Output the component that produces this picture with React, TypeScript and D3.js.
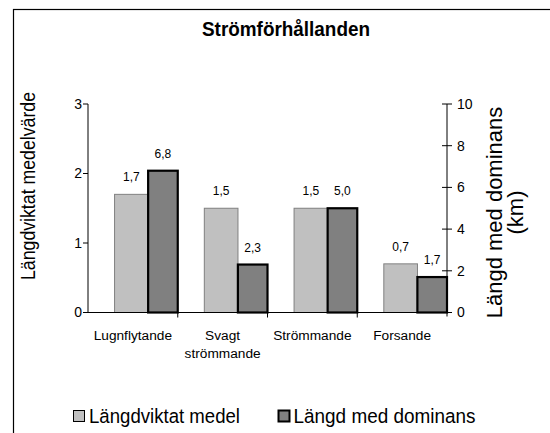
import React from "react";
import * as d3 from "d3";

const title = "Strömförhållanden";
const categories = ["Lugnflytande", "Svagt\nströmmande", "Strömmande", "Forsande"];
const medelValues = [1.7, 1.5, 1.5, 0.7];
const dominansValues = [6.8, 2.3, 5.0, 1.7];
const leftTicks = [0, 1, 2, 3];
const rightTicks = [0, 2, 4, 6, 8, 10];
const leftTitle = "Längdviktat medelvärde";
const rightTitle = ["Längd med dominans", "(km)"];
const seriesNames = ["Längdviktat medel", "Längd med dominans"];

const FONT = "'Liberation Sans', Arial, Helvetica, sans-serif";
const LIGHT = "#c0c0c0";
const DARK = "#808080";

const fmt = (v: number) => d3.format(".1f")(v).replace(".", ",");

export default function App() {
  const plotLeft = 88;
  const plotRight = 447;
  const plotTop = 104;
  const plotBottom = 312.5;

  const x = d3.scaleBand<string>().domain(categories).range([plotLeft, plotRight]).padding(0);
  const yL = d3.scaleLinear().domain([0, 3]).range([plotBottom, plotTop]);
  const yR = d3.scaleLinear().domain([0, 10]).range([plotBottom, plotTop]);
  const bw = x.bandwidth();

  const lightX = (c: string) => (x(c) as number) + bw * 0.296;
  const lightW = bw * 0.375;
  const darkX = (c: string) => (x(c) as number) + bw * 0.67;
  const darkW = bw * 0.33;

  return (
    <svg
      width={550}
      height={433}
      style={{ position: "absolute", left: 0, top: 0, background: "#fff", overflow: "hidden" }}
      fontFamily={FONT}
    >
      <rect x={0} y={0} width={550} height={433} fill="#fff" />
      {/* outer frame */}
      <rect x={13.5} y={9.5} width={600} height={500} fill="none" stroke="#000" strokeWidth={1.2} />

      {/* title */}
      <text
        x={286}
        y={36}
        textAnchor="middle"
        fontWeight="bold"
        fontSize={20}
        textLength={168}
        lengthAdjust="spacingAndGlyphs"
        fill="#000"
      >
        {title}
      </text>

      {/* bars: light series (left axis) */}
      {categories.map((c, i) => (
        <rect
          key={"l" + i}
          x={lightX(c)}
          y={yL(medelValues[i])}
          width={lightW}
          height={plotBottom - yL(medelValues[i])}
          fill={LIGHT}
          stroke="#808080"
          strokeWidth={1}
        />
      ))}
      {/* bars: dark series (right axis) */}
      {categories.map((c, i) => (
        <rect
          key={"d" + i}
          x={darkX(c)}
          y={yR(dominansValues[i])}
          width={darkW}
          height={plotBottom - yR(dominansValues[i])}
          fill={DARK}
          stroke="#000"
          strokeWidth={2.2}
        />
      ))}

      {/* data labels */}
      {categories.map((c, i) => (
        <text
          key={"ll" + i}
          x={lightX(c) + lightW / 2}
          y={yL(medelValues[i]) - 13}
          textAnchor="middle"
          fontSize={12}
          fill="#000"
        >
          {fmt(medelValues[i])}
        </text>
      ))}
      {categories.map((c, i) => (
        <text
          key={"dl" + i}
          x={darkX(c) + darkW / 2}
          y={yR(dominansValues[i]) - 13}
          textAnchor="middle"
          fontSize={12}
          fill="#000"
        >
          {fmt(dominansValues[i])}
        </text>
      ))}

      {/* left axis */}
      <line x1={plotLeft} x2={plotLeft} y1={plotTop} y2={plotBottom} stroke="#000" strokeWidth={1} />
      {leftTicks.map((t) => (
        <g key={"lt" + t}>
          <line x1={plotLeft - 5} x2={plotLeft} y1={yL(t)} y2={yL(t)} stroke="#000" strokeWidth={1} />
          <text x={82} y={yL(t)} dy="0.35em" textAnchor="end" fontSize={14} fill="#000">
            {t}
          </text>
        </g>
      ))}

      {/* right axis */}
      <line x1={plotRight} x2={plotRight} y1={plotTop} y2={plotBottom + 4} stroke="#000" strokeWidth={1} />
      {rightTicks.map((t) => (
        <g key={"rt" + t}>
          <line x1={plotRight - 5} x2={plotRight + 5} y1={yR(t)} y2={yR(t)} stroke="#000" strokeWidth={1} />
          <text x={457} y={yR(t)} dy="0.35em" textAnchor="start" fontSize={14} fill="#000">
            {t}
          </text>
        </g>
      ))}

      {/* bottom axis */}
      <line x1={plotLeft} x2={plotRight} y1={plotBottom} y2={plotBottom} stroke="#000" strokeWidth={1} />
      {categories.slice(1).map((c, i) => (
        <line
          key={"bt" + i}
          x1={x(c) as number}
          x2={x(c) as number}
          y1={plotBottom}
          y2={plotBottom + 5}
          stroke="#000"
          strokeWidth={1}
        />
      ))}

      {/* category labels */}
      {categories.map((c, i) => (
        <text key={"cl" + i} textAnchor="middle" fontSize={13.7} fill="#000">
          {c.split("\n").map((line, j) => (
            <tspan key={j} x={(x(c) as number) + bw / 2} y={340 + j * 18}>
              {line}
            </tspan>
          ))}
        </text>
      ))}

      {/* left axis title */}
      <text
        transform={`translate(34.5,186) rotate(-90)`}
        textAnchor="middle"
        fontSize={20.5}
        textLength={188}
        lengthAdjust="spacingAndGlyphs"
        fill="#000"
      >
        {leftTitle}
      </text>

      {/* right axis title */}
      <text transform={`translate(501.5,212.5) rotate(-90)`} textAnchor="middle" fontSize={22} fill="#000">
        <tspan x={0} y={0}>{rightTitle[0]}</tspan>
        <tspan x={0} y={21.5}>{rightTitle[1]}</tspan>
      </text>

      {/* legend */}
      <rect x={73.5} y={410.5} width={11} height={11} fill={LIGHT} stroke="#000" strokeWidth={1} />
      <text x={89} y={423} fontSize={20.5} textLength={151} lengthAdjust="spacingAndGlyphs" fill="#000">
        {seriesNames[0]}
      </text>
      <rect x={278.5} y={410.5} width={11} height={11} fill={DARK} stroke="#000" strokeWidth={2} />
      <text x={293.5} y={423} fontSize={20.5} textLength={182} lengthAdjust="spacingAndGlyphs" fill="#000">
        {seriesNames[1]}
      </text>
    </svg>
  );
}
